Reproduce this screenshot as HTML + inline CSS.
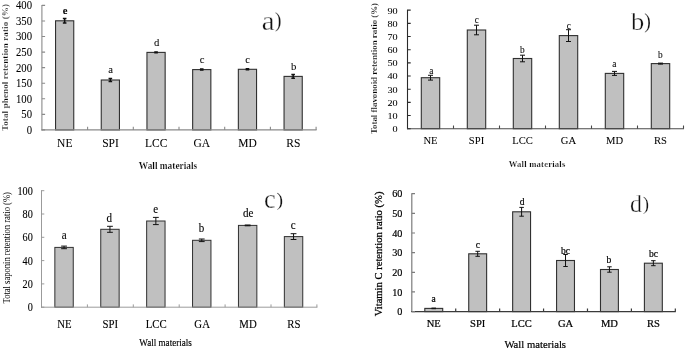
<!DOCTYPE html>
<html lang="en">
<head>
<meta charset="utf-8">
<title>Retention ratios by wall material</title>
<style>
html,body{margin:0;padding:0;background:#fff;}
body{width:685px;height:349px;overflow:hidden;}
svg{display:block;font-family:'Liberation Serif', serif;filter:grayscale(1) blur(0.35px);}
</style>
</head>
<body>
<svg width="685" height="349" viewBox="0 0 685 349">
<rect width="685" height="349" fill="#fff"/>
<rect x="55.55" y="20.8" width="18.2" height="109.1" fill="#c0c0c0" stroke="#303030" stroke-width="1.1"/>
<path d="M64.65 18.5V23.1M62.85 18.5H66.45M62.85 23.1H66.45" stroke="#111" stroke-width="1.5" fill="none"/>
<rect x="101.25" y="80" width="18.2" height="49.9" fill="#c0c0c0" stroke="#303030" stroke-width="1.1"/>
<path d="M110.35 78.5V81.5M108.55 78.5H112.15M108.55 81.5H112.15" stroke="#111" stroke-width="1.5" fill="none"/>
<rect x="146.95" y="52.4" width="18.2" height="77.5" fill="#c0c0c0" stroke="#303030" stroke-width="1.1"/>
<path d="M156.05 52.1V52.7M154.25 52.1H157.85M154.25 52.7H157.85" stroke="#111" stroke-width="1.5" fill="none"/>
<rect x="192.65" y="69.6" width="18.2" height="60.3" fill="#c0c0c0" stroke="#303030" stroke-width="1.1"/>
<path d="M201.75 69.1V70.1M199.95 69.1H203.55M199.95 70.1H203.55" stroke="#111" stroke-width="1.5" fill="none"/>
<rect x="238.35" y="69.3" width="18.2" height="60.6" fill="#c0c0c0" stroke="#303030" stroke-width="1.1"/>
<path d="M247.45 68.8V69.8M245.65 68.8H249.25M245.65 69.8H249.25" stroke="#111" stroke-width="1.5" fill="none"/>
<rect x="284.05" y="76.4" width="18.2" height="53.5" fill="#c0c0c0" stroke="#303030" stroke-width="1.1"/>
<path d="M293.15 74.6V78.2M291.35 74.6H294.95M291.35 78.2H294.95" stroke="#111" stroke-width="1.5" fill="none"/>
<path d="M41.9 4.92V130.4" stroke="#8a8a8a" stroke-width="1.1" fill="none"/>
<path d="M41.4 129.9H316.6" stroke="#8a8a8a" stroke-width="1.1" fill="none"/>
<path d="M41.9 129.9h3.2M41.9 114.34h3.2M41.9 98.78h3.2M41.9 83.22h3.2M41.9 67.66h3.2M41.9 52.1h3.2M41.9 36.54h3.2M41.9 20.98h3.2M41.9 5.42h3.2" stroke="#8a8a8a" stroke-width="1.1" fill="none"/>
<path d="M87.6 129.9v-3.2M133.3 129.9v-3.2M179 129.9v-3.2M224.7 129.9v-3.2M270.4 129.9v-3.2M316.1 129.9v-3.2" stroke="#8a8a8a" stroke-width="1.1" fill="none"/>
<text transform="translate(32 133.8) scale(0.93 1)" font-size="11.5" text-anchor="end" stroke="#000" stroke-width="0.05">0</text>
<text transform="translate(32 118.24) scale(0.93 1)" font-size="11.5" text-anchor="end" stroke="#000" stroke-width="0.05">50</text>
<text transform="translate(32 102.68) scale(0.93 1)" font-size="11.5" text-anchor="end" stroke="#000" stroke-width="0.05">100</text>
<text transform="translate(32 87.12) scale(0.93 1)" font-size="11.5" text-anchor="end" stroke="#000" stroke-width="0.05">150</text>
<text transform="translate(32 71.56) scale(0.93 1)" font-size="11.5" text-anchor="end" stroke="#000" stroke-width="0.05">200</text>
<text transform="translate(32 56) scale(0.93 1)" font-size="11.5" text-anchor="end" stroke="#000" stroke-width="0.05">250</text>
<text transform="translate(32 40.44) scale(0.93 1)" font-size="11.5" text-anchor="end" stroke="#000" stroke-width="0.05">300</text>
<text transform="translate(32 24.88) scale(0.93 1)" font-size="11.5" text-anchor="end" stroke="#000" stroke-width="0.05">350</text>
<text transform="translate(32 9.32) scale(0.93 1)" font-size="11.5" text-anchor="end" stroke="#000" stroke-width="0.05">400</text>
<text transform="translate(65 14.1)" font-size="10.67" font-weight="bold" text-anchor="middle" stroke="#000" stroke-width="0.05">e</text>
<text transform="translate(110.6 73.3)" font-size="10.67" text-anchor="middle" stroke="#000" stroke-width="0.05">a</text>
<text transform="translate(156.6 45.5)" font-size="10.67" text-anchor="middle" stroke="#000" stroke-width="0.05">d</text>
<text transform="translate(202 62.5)" font-size="10.67" text-anchor="middle" stroke="#000" stroke-width="0.05">c</text>
<text transform="translate(247.7 62.5)" font-size="10.67" text-anchor="middle" stroke="#000" stroke-width="0.05">c</text>
<text transform="translate(293.6 69.9)" font-size="10.67" text-anchor="middle" stroke="#000" stroke-width="0.05">b</text>
<text transform="translate(64.75 146.9)" font-size="11.5" text-anchor="middle" stroke="#000" stroke-width="0.05">NE</text>
<text transform="translate(110.45 146.9)" font-size="11.5" text-anchor="middle" stroke="#000" stroke-width="0.05">SPI</text>
<text transform="translate(156.15 146.9)" font-size="11.5" text-anchor="middle" stroke="#000" stroke-width="0.05">LCC</text>
<text transform="translate(201.85 146.9)" font-size="11.5" text-anchor="middle" stroke="#000" stroke-width="0.05">GA</text>
<text transform="translate(247.55 146.9)" font-size="11.5" text-anchor="middle" stroke="#000" stroke-width="0.05">MD</text>
<text transform="translate(293.25 146.9)" font-size="11.5" text-anchor="middle" stroke="#000" stroke-width="0.05">RS</text>
<text transform="translate(168 169)" font-size="9.33" font-weight="bold" text-anchor="middle" stroke="#fff" stroke-width="0.2">Wall materials</text>
<text transform="translate(7.7 67.5) rotate(-90)" font-size="9" font-weight="bold" letter-spacing="0.13" text-anchor="middle" stroke="#fff" stroke-width="0.2">Total phenol retention ratio (%)</text>
<text transform="translate(261.8 30) scale(1.05 1)" font-size="27.4" fill="#111" stroke="#fff" stroke-width="0.35">a</text>
<text transform="translate(275.1 27.4) scale(0.97 1)" font-size="20" fill="#111" stroke="#fff" stroke-width="0.15">)</text>
<rect x="421.3" y="77.7" width="18.4" height="51" fill="#c0c0c0" stroke="#303030" stroke-width="1.1"/>
<path d="M430.5 75.3V80.1M428 75.3H433M428 80.1H433" stroke="#111" stroke-width="1" fill="none"/>
<rect x="467.3" y="30" width="18.4" height="98.7" fill="#c0c0c0" stroke="#303030" stroke-width="1.1"/>
<path d="M476.5 25.2V34.8M474 25.2H479M474 34.8H479" stroke="#111" stroke-width="1" fill="none"/>
<rect x="513.3" y="58.5" width="18.4" height="70.2" fill="#c0c0c0" stroke="#303030" stroke-width="1.1"/>
<path d="M522.5 55.2V61.8M520 55.2H525M520 61.8H525" stroke="#111" stroke-width="1" fill="none"/>
<rect x="559.3" y="35.6" width="18.4" height="93.1" fill="#c0c0c0" stroke="#303030" stroke-width="1.1"/>
<path d="M568.5 29.7V41.5M566 29.7H571M566 41.5H571" stroke="#111" stroke-width="1" fill="none"/>
<rect x="605.3" y="73.4" width="18.4" height="55.3" fill="#c0c0c0" stroke="#303030" stroke-width="1.1"/>
<path d="M614.5 71.4V75.4M612 71.4H617M612 75.4H617" stroke="#111" stroke-width="1" fill="none"/>
<rect x="651.3" y="63.6" width="18.4" height="65.1" fill="#c0c0c0" stroke="#303030" stroke-width="1.1"/>
<path d="M660.5 63.1V64.1M658 63.1H663M658 64.1H663" stroke="#111" stroke-width="1" fill="none"/>
<path d="M407.5 9.67V129.2" stroke="#2a2a2a" stroke-width="1.1" fill="none"/>
<path d="M407 128.7H684" stroke="#4a4a4a" stroke-width="1.1" fill="none"/>
<path d="M407.5 128.7h3.2M407.5 115.53h3.2M407.5 102.36h3.2M407.5 89.19h3.2M407.5 76.02h3.2M407.5 62.85h3.2M407.5 49.68h3.2M407.5 36.51h3.2M407.5 23.34h3.2M407.5 10.17h3.2" stroke="#2a2a2a" stroke-width="1.1" fill="none"/>
<path d="M453.5 128.7v-3.2M499.5 128.7v-3.2M545.5 128.7v-3.2M591.5 128.7v-3.2M637.5 128.7v-3.2M683.5 128.7v-3.2" stroke="#4a4a4a" stroke-width="1.1" fill="none"/>
<text transform="translate(397.7 132.1) scale(1.12 1)" font-size="9.1" text-anchor="end" stroke="#000" stroke-width="0.05">0</text>
<text transform="translate(397.7 118.93) scale(1.12 1)" font-size="9.1" text-anchor="end" stroke="#000" stroke-width="0.05">10</text>
<text transform="translate(397.7 105.76) scale(1.12 1)" font-size="9.1" text-anchor="end" stroke="#000" stroke-width="0.05">20</text>
<text transform="translate(397.7 92.59) scale(1.12 1)" font-size="9.1" text-anchor="end" stroke="#000" stroke-width="0.05">30</text>
<text transform="translate(397.7 79.42) scale(1.12 1)" font-size="9.1" text-anchor="end" stroke="#000" stroke-width="0.05">40</text>
<text transform="translate(397.7 66.25) scale(1.12 1)" font-size="9.1" text-anchor="end" stroke="#000" stroke-width="0.05">50</text>
<text transform="translate(397.7 53.08) scale(1.12 1)" font-size="9.1" text-anchor="end" stroke="#000" stroke-width="0.05">60</text>
<text transform="translate(397.7 39.91) scale(1.12 1)" font-size="9.1" text-anchor="end" stroke="#000" stroke-width="0.05">70</text>
<text transform="translate(397.7 26.74) scale(1.12 1)" font-size="9.1" text-anchor="end" stroke="#000" stroke-width="0.05">80</text>
<text transform="translate(397.7 13.57) scale(1.12 1)" font-size="9.1" text-anchor="end" stroke="#000" stroke-width="0.05">90</text>
<text transform="translate(431.3 73.9)" font-size="9.33" text-anchor="middle" stroke="#000" stroke-width="0.05">a</text>
<text transform="translate(476.9 23.2)" font-size="9.33" text-anchor="middle" stroke="#000" stroke-width="0.05">c</text>
<text transform="translate(522.3 52.5)" font-size="9.33" text-anchor="middle" stroke="#000" stroke-width="0.05">b</text>
<text transform="translate(568.7 29.3)" font-size="9.33" text-anchor="middle" stroke="#000" stroke-width="0.05">c</text>
<text transform="translate(614.4 66.8)" font-size="9.33" text-anchor="middle" stroke="#000" stroke-width="0.05">a</text>
<text transform="translate(660.3 57.5)" font-size="9.33" text-anchor="middle" stroke="#000" stroke-width="0.05">b</text>
<text transform="translate(430.5 144.3) scale(1.13 1)" font-size="9.4" text-anchor="middle" stroke="#000" stroke-width="0.05">NE</text>
<text transform="translate(476.5 144.3) scale(1.13 1)" font-size="9.4" text-anchor="middle" stroke="#000" stroke-width="0.05">SPI</text>
<text transform="translate(522.5 144.3) scale(1.13 1)" font-size="9.4" text-anchor="middle" stroke="#000" stroke-width="0.05">LCC</text>
<text transform="translate(568.5 144.3) scale(1.13 1)" font-size="9.4" text-anchor="middle" stroke="#000" stroke-width="0.05">GA</text>
<text transform="translate(614.5 144.3) scale(1.13 1)" font-size="9.4" text-anchor="middle" stroke="#000" stroke-width="0.05">MD</text>
<text transform="translate(660.5 144.3) scale(1.13 1)" font-size="9.4" text-anchor="middle" stroke="#000" stroke-width="0.05">RS</text>
<text transform="translate(537.1 166.5)" font-size="8.6" font-weight="bold" letter-spacing="0.22" text-anchor="middle" stroke="#fff" stroke-width="0.2">Wall materials</text>
<text transform="translate(376.6 68.5) rotate(-90)" font-size="8.88" font-weight="bold" text-anchor="middle" stroke="#fff" stroke-width="0.15">Total flavonoid retention ratio (%)</text>
<text transform="translate(630.9 30.2) scale(1.02 1)" font-size="26" fill="#111" stroke="#fff" stroke-width="0.35">b</text>
<text transform="translate(644.3 27.7)" font-size="20" fill="#111" stroke="#fff" stroke-width="0.15">)</text>
<rect x="54.85" y="247.4" width="18.4" height="59.8" fill="#c0c0c0" stroke="#303030" stroke-width="1"/>
<path d="M64.05 246.1V248.7M61.15 246.1H66.95M61.15 248.7H66.95" stroke="#111" stroke-width="1" fill="none"/>
<rect x="100.75" y="229.3" width="18.4" height="77.9" fill="#c0c0c0" stroke="#303030" stroke-width="1"/>
<path d="M109.95 226.3V232.3M107.05 226.3H112.85M107.05 232.3H112.85" stroke="#111" stroke-width="1" fill="none"/>
<rect x="146.65" y="221" width="18.4" height="86.2" fill="#c0c0c0" stroke="#303030" stroke-width="1"/>
<path d="M155.85 217.4V224.6M152.95 217.4H158.75M152.95 224.6H158.75" stroke="#111" stroke-width="1" fill="none"/>
<rect x="192.55" y="240.3" width="18.4" height="66.9" fill="#c0c0c0" stroke="#303030" stroke-width="1"/>
<path d="M201.75 239V241.6M198.85 239H204.65M198.85 241.6H204.65" stroke="#111" stroke-width="1" fill="none"/>
<rect x="238.45" y="225.4" width="18.4" height="81.8" fill="#c0c0c0" stroke="#303030" stroke-width="1"/>
<path d="M247.65 225V225.8M244.75 225H250.55M244.75 225.8H250.55" stroke="#111" stroke-width="1" fill="none"/>
<rect x="284.35" y="236.6" width="18.4" height="70.6" fill="#c0c0c0" stroke="#303030" stroke-width="1"/>
<path d="M293.55 233.7V239.5M290.65 233.7H296.45M290.65 239.5H296.45" stroke="#111" stroke-width="1" fill="none"/>
<path d="M41.5 190.2V307.7" stroke="#969696" stroke-width="0.95" fill="none"/>
<path d="M41 307.2H317.4" stroke="#969696" stroke-width="0.95" fill="none"/>
<path d="M41.5 307.2h2.8M41.5 283.9h2.8M41.5 260.6h2.8M41.5 237.3h2.8M41.5 214h2.8M41.5 190.7h2.8" stroke="#969696" stroke-width="0.95" fill="none"/>
<path d="M87.4 307.2v-2.8M133.3 307.2v-2.8M179.2 307.2v-2.8M225.1 307.2v-2.8M271 307.2v-2.8M316.9 307.2v-2.8" stroke="#969696" stroke-width="0.95" fill="none"/>
<text transform="translate(32.8 311.2) scale(0.85 1)" font-size="12" text-anchor="end" stroke="#000" stroke-width="0.12">0</text>
<text transform="translate(32.8 287.9) scale(0.85 1)" font-size="12" text-anchor="end" stroke="#000" stroke-width="0.12">20</text>
<text transform="translate(32.8 264.6) scale(0.85 1)" font-size="12" text-anchor="end" stroke="#000" stroke-width="0.12">40</text>
<text transform="translate(32.8 241.3) scale(0.85 1)" font-size="12" text-anchor="end" stroke="#000" stroke-width="0.12">60</text>
<text transform="translate(32.8 218) scale(0.85 1)" font-size="12" text-anchor="end" stroke="#000" stroke-width="0.12">80</text>
<text transform="translate(32.8 194.7) scale(0.85 1)" font-size="12" text-anchor="end" stroke="#000" stroke-width="0.12">100</text>
<text transform="translate(64.1 239.1) scale(0.92 1)" font-size="12" text-anchor="middle" stroke="#000" stroke-width="0.12">a</text>
<text transform="translate(109.3 222.4) scale(0.92 1)" font-size="12" text-anchor="middle" stroke="#000" stroke-width="0.12">d</text>
<text transform="translate(155.8 213) scale(0.92 1)" font-size="12" text-anchor="middle" stroke="#000" stroke-width="0.12">e</text>
<text transform="translate(201.5 232.2) scale(0.92 1)" font-size="12" text-anchor="middle" stroke="#000" stroke-width="0.12">b</text>
<text transform="translate(248.1 217.4) scale(0.92 1)" font-size="12" text-anchor="middle" stroke="#000" stroke-width="0.12">de</text>
<text transform="translate(293.3 228.9) scale(0.92 1)" font-size="12" text-anchor="middle" stroke="#000" stroke-width="0.12">c</text>
<text transform="translate(64.45 328.4) scale(0.9 1)" font-size="12" text-anchor="middle" stroke="#000" stroke-width="0.12">NE</text>
<text transform="translate(110.35 328.4) scale(0.9 1)" font-size="12" text-anchor="middle" stroke="#000" stroke-width="0.12">SPI</text>
<text transform="translate(156.25 328.4) scale(0.9 1)" font-size="12" text-anchor="middle" stroke="#000" stroke-width="0.12">LCC</text>
<text transform="translate(202.15 328.4) scale(0.9 1)" font-size="12" text-anchor="middle" stroke="#000" stroke-width="0.12">GA</text>
<text transform="translate(248.05 328.4) scale(0.9 1)" font-size="12" text-anchor="middle" stroke="#000" stroke-width="0.12">MD</text>
<text transform="translate(293.95 328.4) scale(0.9 1)" font-size="12" text-anchor="middle" stroke="#000" stroke-width="0.12">RS</text>
<text transform="translate(165.6 345.8) scale(0.91 1)" font-size="10" text-anchor="middle" stroke="#000" stroke-width="0.15">Wall materials</text>
<text transform="translate(9.9 247.8) rotate(-90) scale(0.83 1)" font-size="10.3" text-anchor="middle">Total saponin retention ratio (%)</text>
<text transform="translate(263.9 207.8) scale(0.98 1)" font-size="26.8" fill="#111" stroke="#fff" stroke-width="0.35">c</text>
<text transform="translate(276.6 205.9)" font-size="19.8" fill="#111" stroke="#fff" stroke-width="0.15">)</text>
<rect x="424.81" y="308.4" width="17.9" height="3.2" fill="#c0c0c0" stroke="#303030" stroke-width="1.1"/>
<path d="M433.76 308.1V308.7M431.51 308.1H436.01M431.51 308.7H436.01" stroke="#111" stroke-width="1" fill="none"/>
<rect x="468.73" y="253.8" width="17.9" height="57.8" fill="#c0c0c0" stroke="#303030" stroke-width="1.1"/>
<path d="M477.68 251.3V256.3M475.43 251.3H479.93M475.43 256.3H479.93" stroke="#111" stroke-width="1" fill="none"/>
<rect x="512.65" y="211.8" width="17.9" height="99.8" fill="#c0c0c0" stroke="#303030" stroke-width="1.1"/>
<path d="M521.6 207.4V216.2M519.35 207.4H523.85M519.35 216.2H523.85" stroke="#111" stroke-width="1" fill="none"/>
<rect x="556.57" y="260.5" width="17.9" height="51.1" fill="#c0c0c0" stroke="#303030" stroke-width="1.1"/>
<path d="M565.52 254.5V266.5M563.27 254.5H567.77M563.27 266.5H567.77" stroke="#111" stroke-width="1" fill="none"/>
<rect x="600.49" y="269.5" width="17.9" height="42.1" fill="#c0c0c0" stroke="#303030" stroke-width="1.1"/>
<path d="M609.44 266.8V272.2M607.19 266.8H611.69M607.19 272.2H611.69" stroke="#111" stroke-width="1" fill="none"/>
<rect x="644.41" y="263.2" width="17.9" height="48.4" fill="#c0c0c0" stroke="#303030" stroke-width="1.1"/>
<path d="M653.36 260.7V265.7M651.11 260.7H655.61M651.11 265.7H655.61" stroke="#111" stroke-width="1" fill="none"/>
<path d="M411.8 193.2V312.1" stroke="#7c7c7c" stroke-width="1.2" fill="none"/>
<path d="M411.3 311.6H675.82" stroke="#3a3a3a" stroke-width="1.2" fill="none"/>
<path d="M411.8 311.6h3.2M411.8 291.95h3.2M411.8 272.3h3.2M411.8 252.65h3.2M411.8 233h3.2M411.8 213.35h3.2M411.8 193.7h3.2" stroke="#7c7c7c" stroke-width="1.2" fill="none"/>
<path d="M455.72 311.6v-3.2M499.64 311.6v-3.2M543.56 311.6v-3.2M587.48 311.6v-3.2M631.4 311.6v-3.2M675.32 311.6v-3.2" stroke="#3a3a3a" stroke-width="1.2" fill="none"/>
<text transform="translate(402.4 315.2)" font-size="10.2" text-anchor="end" stroke="#000" stroke-width="0.2">0</text>
<text transform="translate(402.4 295.55)" font-size="10.2" text-anchor="end" stroke="#000" stroke-width="0.2">10</text>
<text transform="translate(402.4 275.9)" font-size="10.2" text-anchor="end" stroke="#000" stroke-width="0.2">20</text>
<text transform="translate(402.4 256.25)" font-size="10.2" text-anchor="end" stroke="#000" stroke-width="0.2">30</text>
<text transform="translate(402.4 236.6)" font-size="10.2" text-anchor="end" stroke="#000" stroke-width="0.2">40</text>
<text transform="translate(402.4 216.95)" font-size="10.2" text-anchor="end" stroke="#000" stroke-width="0.2">50</text>
<text transform="translate(402.4 197.3)" font-size="10.2" text-anchor="end" stroke="#000" stroke-width="0.2">60</text>
<text transform="translate(433.6 302.4)" font-size="9.5" text-anchor="middle" stroke="#000" stroke-width="0.2">a</text>
<text transform="translate(477.8 247.6)" font-size="9.5" text-anchor="middle" stroke="#000" stroke-width="0.2">c</text>
<text transform="translate(522.2 205.4)" font-size="9.5" text-anchor="middle" stroke="#000" stroke-width="0.2">d</text>
<text transform="translate(565.6 254.3)" font-size="9.5" text-anchor="middle" stroke="#000" stroke-width="0.2">bc</text>
<text transform="translate(608.9 263)" font-size="9.5" text-anchor="middle" stroke="#000" stroke-width="0.2">b</text>
<text transform="translate(653.4 257.1)" font-size="9.5" text-anchor="middle" stroke="#000" stroke-width="0.2">bc</text>
<text transform="translate(433.76 326.8) scale(1.11 1)" font-size="9.5" text-anchor="middle" stroke="#000" stroke-width="0.2">NE</text>
<text transform="translate(477.68 326.8) scale(1.11 1)" font-size="9.5" text-anchor="middle" stroke="#000" stroke-width="0.2">SPI</text>
<text transform="translate(521.6 326.8) scale(1.11 1)" font-size="9.5" text-anchor="middle" stroke="#000" stroke-width="0.2">LCC</text>
<text transform="translate(565.52 326.8) scale(1.11 1)" font-size="9.5" text-anchor="middle" stroke="#000" stroke-width="0.2">GA</text>
<text transform="translate(609.44 326.8) scale(1.11 1)" font-size="9.5" text-anchor="middle" stroke="#000" stroke-width="0.2">MD</text>
<text transform="translate(653.36 326.8) scale(1.11 1)" font-size="9.5" text-anchor="middle" stroke="#000" stroke-width="0.2">RS</text>
<text transform="translate(535.2 347.6)" font-size="10.67" text-anchor="middle" stroke="#000" stroke-width="0.2">Wall materials</text>
<text transform="translate(382 253.9) rotate(-90)" font-size="10.6" text-anchor="middle" stroke="#000" stroke-width="0.25">Vitamin C retention ratio (%)</text>
<text transform="translate(630 212.4) scale(0.93 1)" font-size="25.8" fill="#111" stroke="#fff" stroke-width="0.35">d</text>
<text transform="translate(643 210) scale(0.92 1)" font-size="19.6" fill="#111" stroke="#fff" stroke-width="0.15">)</text>
</svg>
</body>
</html>
